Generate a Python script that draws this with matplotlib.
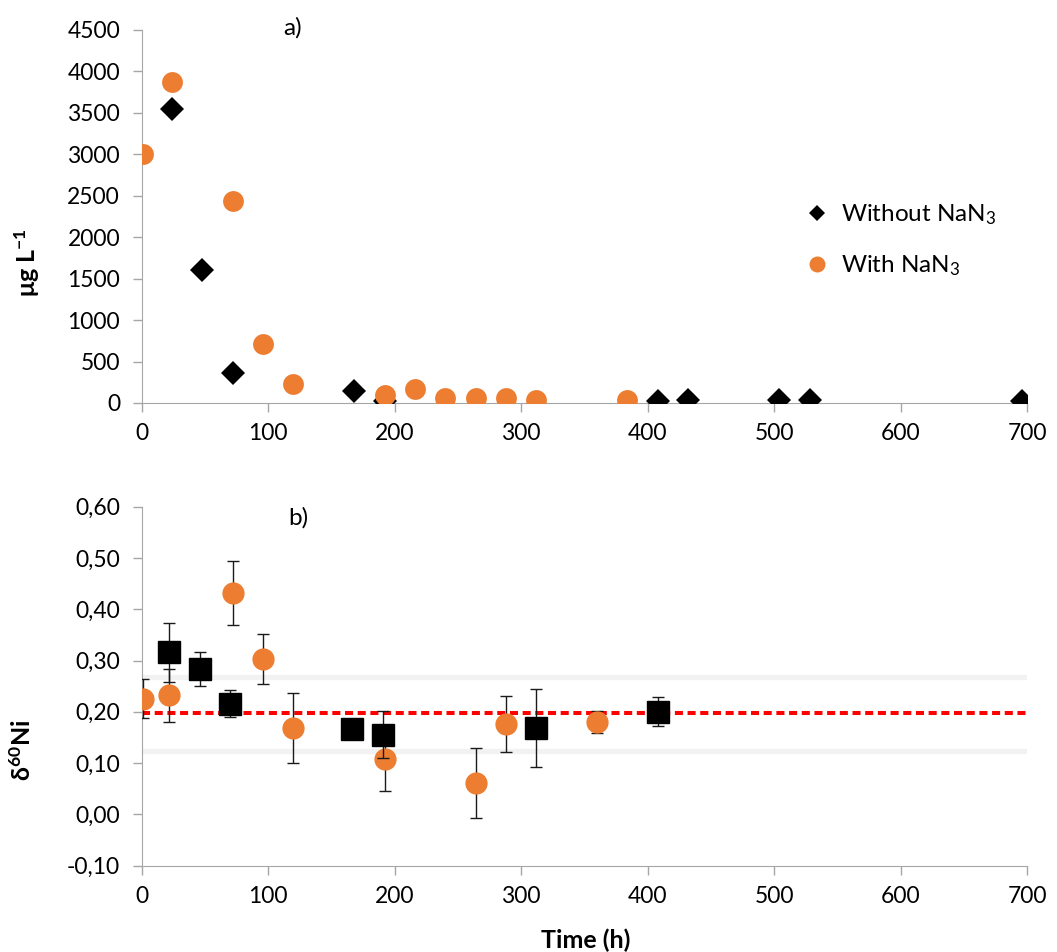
import matplotlib
matplotlib.use('Agg')
import matplotlib.pyplot as plt
from matplotlib.lines import Line2D
from matplotlib.ticker import FuncFormatter

plt.rcParams['font.family'] = ['Lato', 'DejaVu Sans']
plt.rcParams['mathtext.fontset'] = 'custom'
plt.rcParams['mathtext.rm'] = 'Lato'
plt.rcParams['mathtext.it'] = 'Lato:italic'
plt.rcParams['mathtext.bf'] = 'Lato:bold'

# a) concentration (ug/L)
with_t = [1, 24, 72, 96, 120, 192, 216, 240, 264, 288, 312, 384]
with_c = [3000, 3870, 2440, 712, 233, 100, 169, 64, 64, 64, 36, 36]
without_t = [24, 48, 72, 168, 192, 408, 432, 504, 528, 696]
without_c = [3550, 1604, 366, 145, 20, 24, 36, 32, 40, 20]

# b) delta60Ni
with_dt = [1, 22, 72, 96, 120, 192, 264, 288, 360]
with_d = [0.225, 0.232, 0.432, 0.303, 0.168, 0.107, 0.061, 0.176, 0.180]
with_err = [0.038, 0.051, 0.063, 0.048, 0.068, 0.062, 0.068, 0.055, 0.021]
without_dt = [22, 46, 70, 166, 191, 312, 408]
without_d = [0.316, 0.284, 0.216, 0.166, 0.155, 0.168, 0.200]
without_err = [0.058, 0.033, 0.027, 0.01, 0.046, 0.076, 0.028]

ref_mean = 0.197
ref_band = [0.268, 0.123]

orange = '#ED7D31'
axis_grey = '#a6a6a6'

fig = plt.figure(figsize=(10.57, 9.52), dpi=100)
ax1 = fig.add_axes([0.134, 0.5767, 0.8377, 0.3918])
ax2 = fig.add_axes([0.134, 0.0907, 0.8377, 0.3771])

for ax in (ax1, ax2):
    ax.spines['top'].set_visible(False)
    ax.spines['right'].set_visible(False)
    ax.spines['left'].set_color(axis_grey)
    ax.spines['bottom'].set_color(axis_grey)
    ax.tick_params(axis='both', length=6.5, width=1, color=axis_grey,
                   labelsize=16.5, labelcolor='black')
    ax.tick_params(axis='y', pad=9)
    ax.tick_params(axis='x', pad=8)
    ax.set_xlim(0, 700)
    ax.set_xticks(range(0, 701, 100))

# top panel
ax1.plot(without_t, without_c, ls='', marker='D', ms=12, color='black',
         mew=0, zorder=3)
ax1.plot(with_t, with_c, ls='', marker='o', ms=15, color=orange,
         mew=0, zorder=4)
ax1.set_ylim(0, 4500)
ax1.set_yticks(range(0, 4501, 500))
ax1.text(0.17, 1.005, 'a)', transform=ax1.transAxes, fontsize=17.5,
         ha='center', va='center')

handles = [Line2D([], [], ls='', marker='D', ms=8, color='black', mew=0),
           Line2D([], [], ls='', marker='o', ms=11.5, color=orange, mew=0)]
ax1.legend(handles, ['Without NaN$_3$', 'With NaN$_3$'], frameon=False,
           fontsize=17.5, loc='center left', bbox_to_anchor=(0.735, 0.437),
           borderpad=0, handlelength=1.0, handletextpad=0.5,
           labelspacing=1.1)

# bottom panel
for yb in ref_band:
    ax2.axhline(yb, color='#f2f2f2', lw=3.8, zorder=0)
ax2.axhline(ref_mean, color='red', lw=2.9, dashes=(2.0, 1.15), zorder=1)

ax2.errorbar(with_dt, with_d, yerr=with_err, ls='', marker='o', ms=15,
             color=orange, mec=orange, ecolor='#1a1a1a', elinewidth=1,
             capsize=4, capthick=1, zorder=3)
ax2.errorbar(without_dt, without_d, yerr=without_err, ls='', marker='s',
             ms=15.5, color='black', mec='black', ecolor='#1a1a1a',
             elinewidth=1, capsize=4, capthick=1, zorder=4)
ax2.set_ylim(-0.1, 0.6)
ax2.set_yticks([-0.1, 0.0, 0.1, 0.2, 0.3, 0.4, 0.5, 0.6])
ax2.yaxis.set_major_formatter(FuncFormatter(lambda v, p: f'{v:.2f}'.replace('.', ',')))
ax2.text(0.177, 0.968, 'b)', transform=ax2.transAxes, fontsize=17.5,
         ha='center', va='center')

fig.text(0.026, 0.7237, r'μg L$^{\mathbf{-1}}$', rotation=90, fontsize=18,
         fontweight='bold', ha='center', va='center')
fig.text(0.021, 0.2122, r'δ$^{\mathbf{60}}$Ni', rotation=90, fontsize=18,
         fontweight='bold', ha='center', va='center')
fig.text(0.5544, 0.0126, 'Time (h)', fontsize=18, fontweight='bold',
         ha='center', va='center')

fig.savefig('out.png', dpi=100)
